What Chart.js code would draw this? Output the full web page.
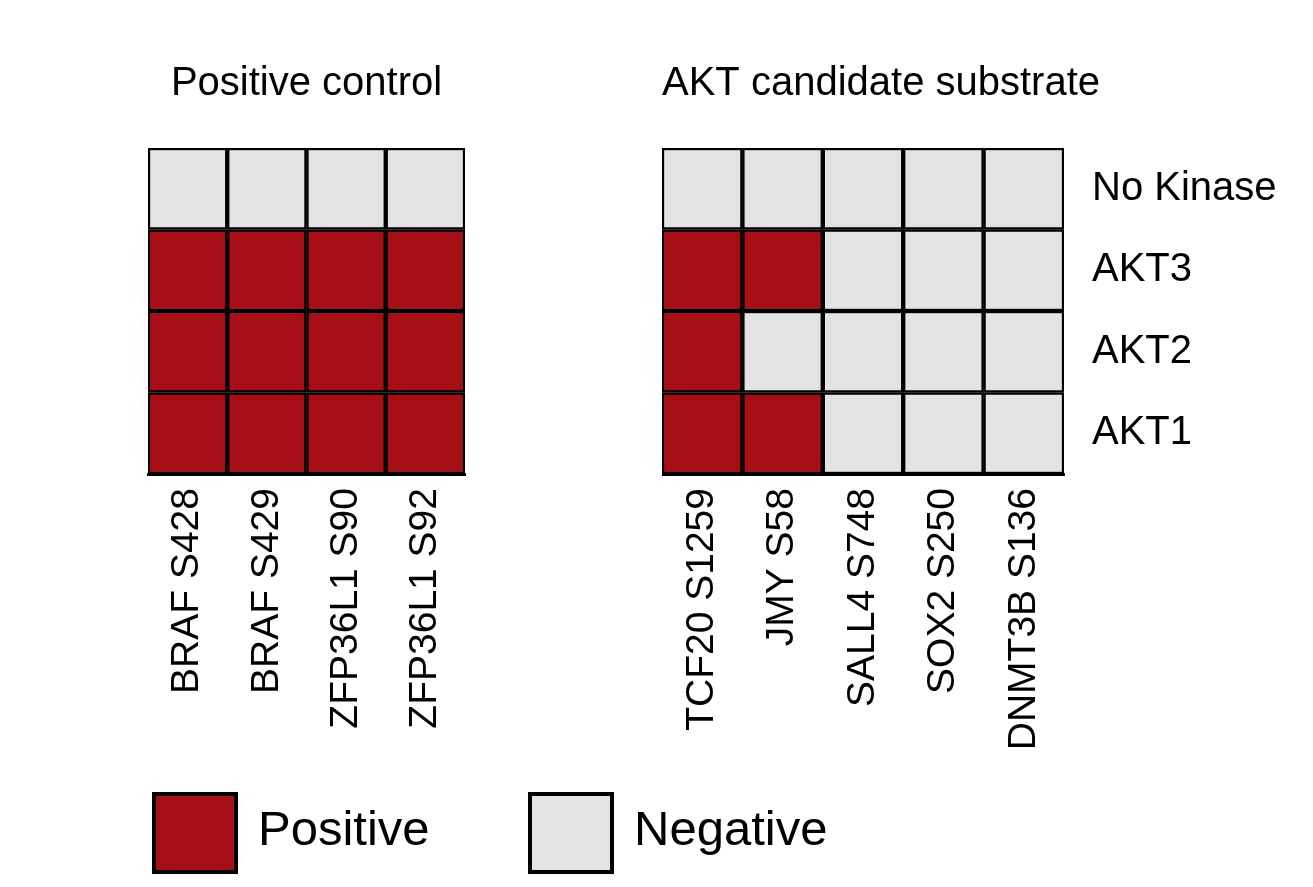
<!DOCTYPE html>
<html><head><meta charset="utf-8">
<script src="https://cdn.jsdelivr.net/npm/chart.js@4"></script>
<style>
body{margin:0;background:#fff;width:1313px;height:887px;position:relative;overflow:hidden;}
.c{position:absolute;}
.box{position:absolute;width:78px;height:74px;border:4px solid #000;}
.lt{position:absolute;font-family:"Liberation Sans Narrow","Liberation Sans",sans-serif;font-size:49px;color:#000;}
</style></head><body>
<div class="c" style="left:118px;top:60px;width:377px;height:714px"><canvas id="a"></canvas></div>
<div class="c" style="left:662px;top:60px;width:642px;height:714px"><canvas id="b"></canvas></div>
<div class="box" style="left:152px;top:792px;background:#A50F15"></div>
<div class="lt" style="left:258px;top:800px">Positive</div>
<div class="box" style="left:528px;top:792px;background:#E3E3E3"></div>
<div class="lt" style="left:634px;top:800px">Negative</div>
<script>
const rowLabels=["AKT1","AKT2","AKT3","No Kinase"];
const leftCols=["BRAF S428","BRAF S429","ZFP36L1 S90","ZFP36L1 S92"];
const rightCols=["TCF20 S1259","JMY S58","SALL4 S748","SOX2 S250","DNMT3B S136"];
const leftVals=[[1,1,1,1],[1,1,1,1],[1,1,1,1],[0,0,0,0]];
const rightVals=[[1,1,0,0,0],[1,0,0,0,0],[1,1,0,0,0],[0,0,0,0,0]];
const POS="#A50F15",NEG="#E3E3E3";
const narrow='"Liberation Sans Narrow","Liberation Sans",sans-serif';
function make(id,title,cols,vals,showRows){
  new Chart(document.getElementById(id),{type:'bar',
    data:{labels:cols,datasets:vals.map((r,i)=>({label:rowLabels[i],data:r.map(()=>1),
      backgroundColor:r.map(v=>v?POS:NEG),borderColor:'#000',borderWidth:2.5,borderSkipped:false,
      barPercentage:1,categoryPercentage:1}))},
    options:{responsive:true,maintainAspectRatio:false,animation:false,
      layout:{padding:showRows?0:{left:30,right:30}},
      plugins:{legend:{display:false},tooltip:{enabled:false},
        title:{display:true,text:title,color:'#000',font:{family:'"Liberation Sans",Arial,sans-serif',size:40,weight:'normal'},padding:{top:0,bottom:40},align:showRows?'start':'center',fullSize:true}},
      scales:{
        x:{stacked:true,grid:{display:false,drawTicks:false},border:{display:true,color:'#000',width:3},
          ticks:{color:'#000',minRotation:90,maxRotation:90,padding:14,font:{family:narrow,size:39}},
          afterFit:a=>{a.height=300;}},
        y:{stacked:true,min:0,max:4,position:'right',display:showRows,
          grid:{display:false,drawTicks:false},border:{display:false},
          afterBuildTicks:a=>{a.ticks=rowLabels.map((l,i)=>({value:i+0.5}));},
          ticks:{color:'#000',padding:28,font:{family:narrow,size:40},callback:(v,i)=>rowLabels[i]},
          afterFit:a=>{if(showRows)a.width=240;}}
      }}});
}
make('a','Positive control',leftCols,leftVals,false);
make('b','AKT candidate substrate',rightCols,rightVals,true);
</script></body></html>
